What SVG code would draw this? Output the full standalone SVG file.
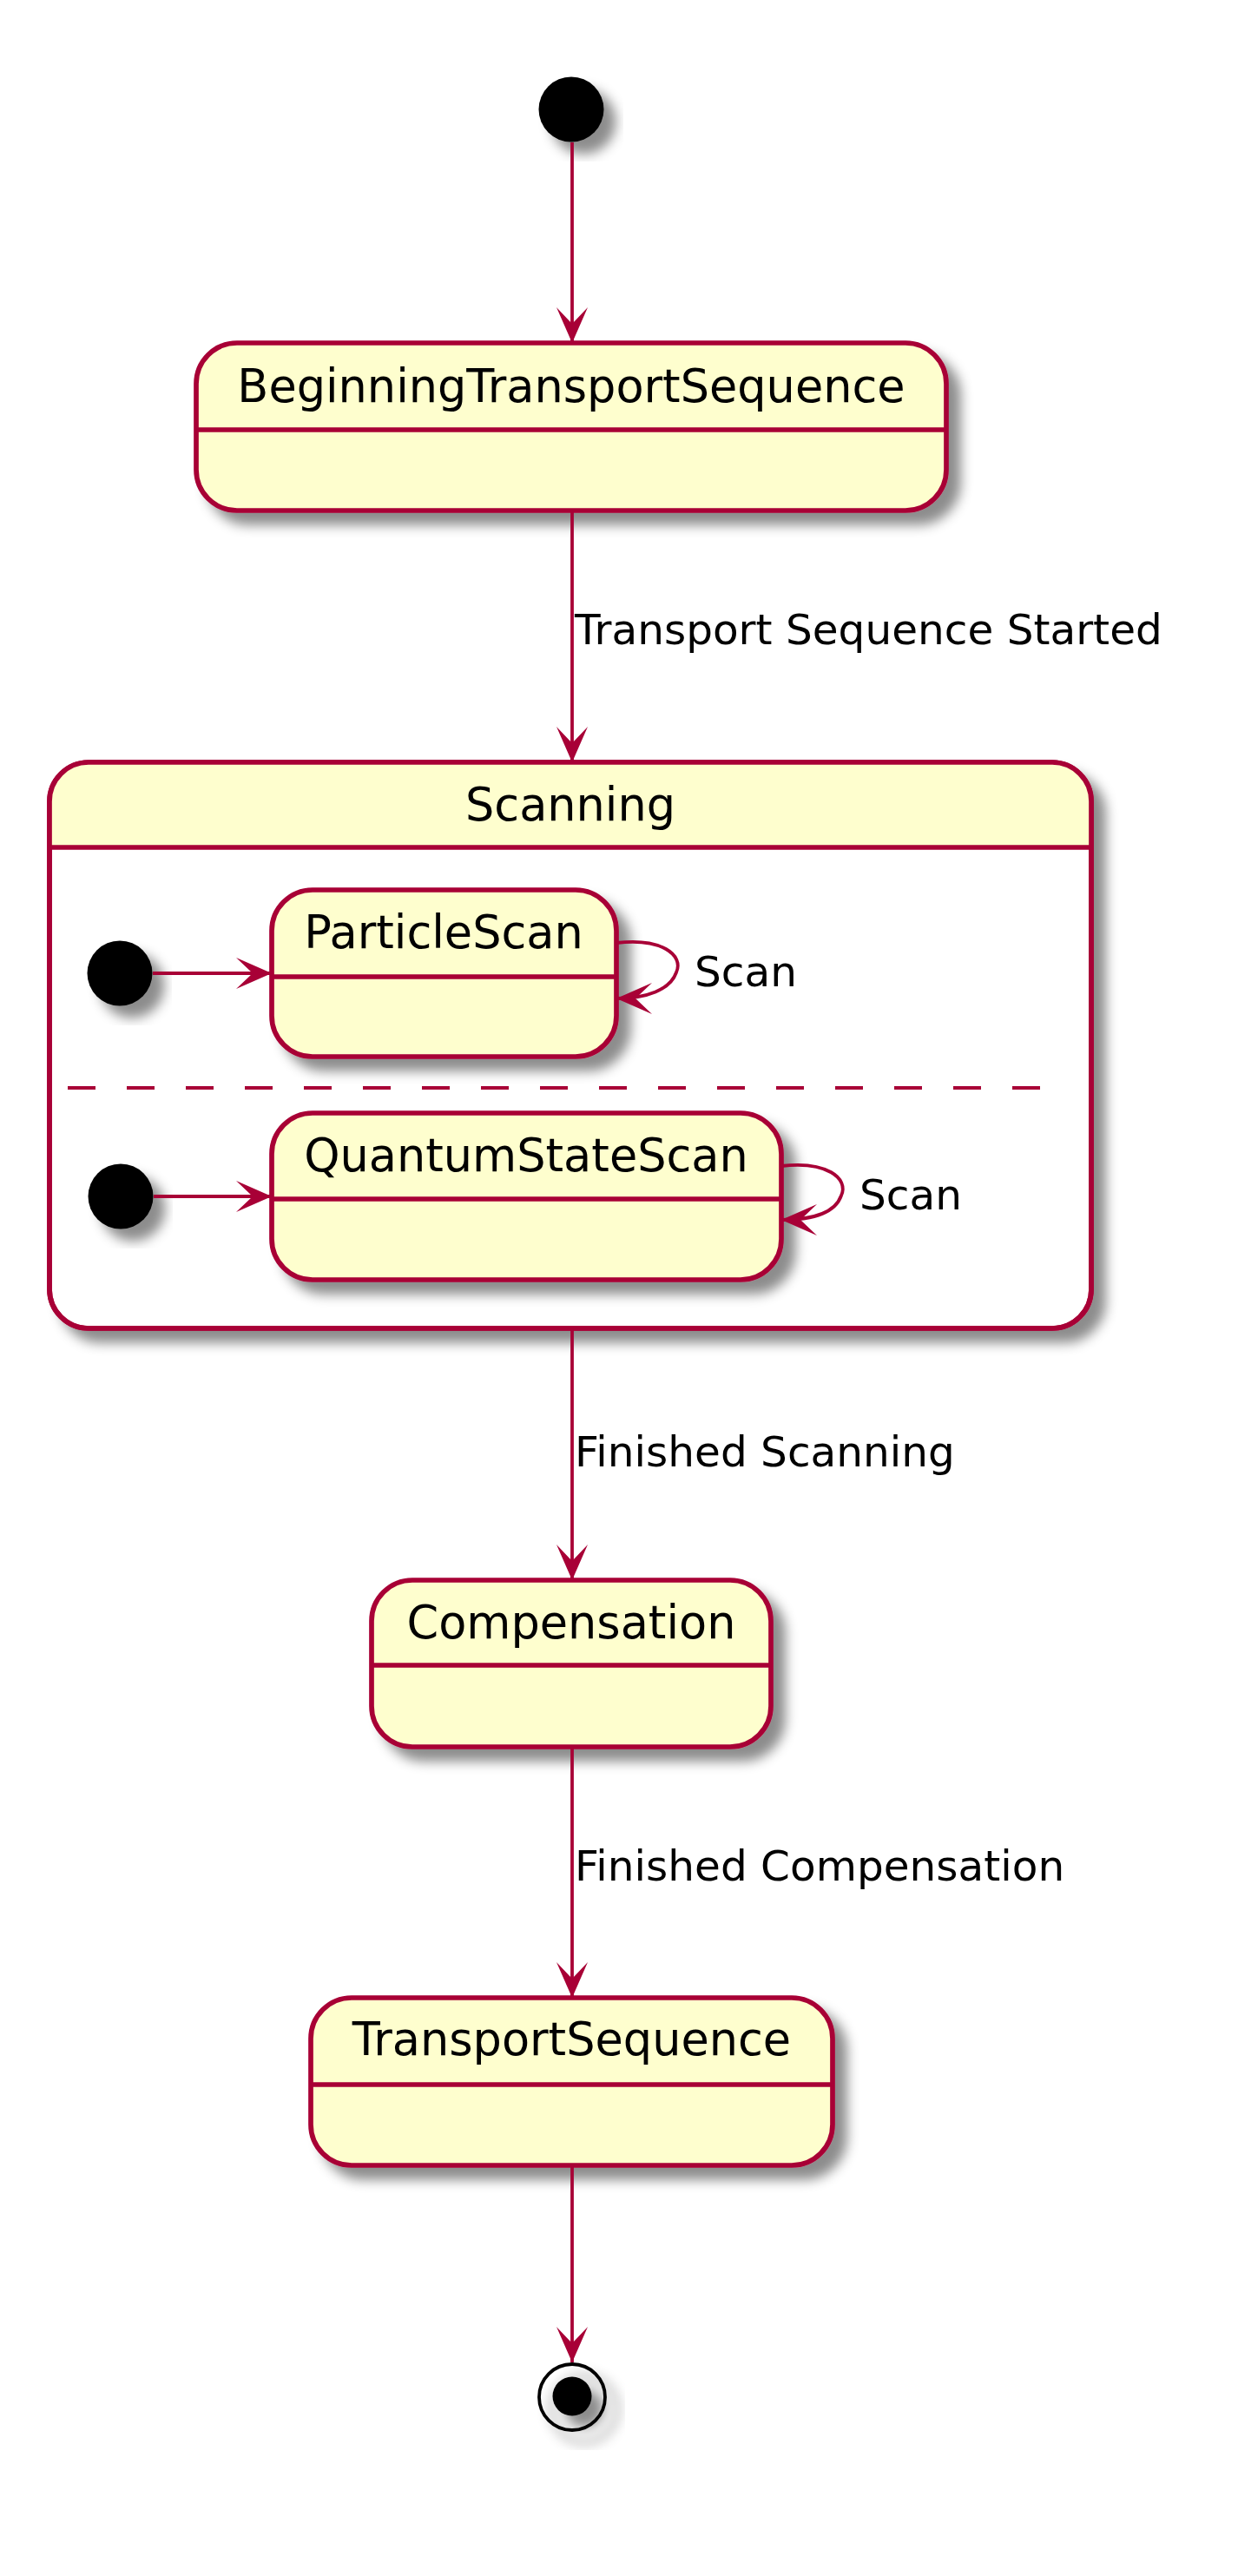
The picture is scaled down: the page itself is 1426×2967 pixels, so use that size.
<svg xmlns="http://www.w3.org/2000/svg" width="1426" height="2967" viewBox="0 0 1426 2967">
<defs>
<filter id="sh" x="-20%" y="-20%" width="150%" height="150%">
<feGaussianBlur in="SourceAlpha" stdDeviation="7" result="b"/>
<feColorMatrix in="b" type="matrix" values="0 0 0 0 0  0 0 0 0 0  0 0 0 0 0  0 0 0 .45 0" result="b2"/>
<feOffset in="b2" dx="14" dy="14" result="b3"/>
<feMerge><feMergeNode in="b3"/><feMergeNode in="SourceGraphic"/></feMerge>
</filter>
<marker id="arr" viewBox="-45 -22 50 44" markerWidth="50" markerHeight="44" refX="0" refY="0" orient="auto" markerUnits="userSpaceOnUse">
<polygon points="0,0 -41,-18 -22,0 -41,18" fill="#A80036"/>
</marker>
<style>
.st{fill:#FEFECE;stroke:#A80036;stroke-width:5.7}
.dv{stroke:#A80036;stroke-width:5.7}
.nm{font-family:"DejaVu Sans",Verdana,sans-serif;font-size:52.5px;fill:#000;text-anchor:middle}
.lb{font-family:"DejaVu Sans",Verdana,sans-serif;font-size:48.5px;fill:#000}
.ed{fill:none;stroke:#A80036;stroke-width:3.8}
</style>
</defs>
<rect width="1426" height="2967" fill="#fff"/>

<g id="start" filter="url(#sh)">
<circle cx="658" cy="126" r="37.5" fill="#000"/>
</g>

<g id="BeginningTransportSequence" filter="url(#sh)">
<rect class="st" x="226" y="395" width="864" height="193" rx="47" ry="47"/>
<line class="dv" x1="226" y1="495" x2="1090" y2="495"/>
<text class="nm" x="658" y="463">BeginningTransportSequence</text>
</g>

<g id="Scanning">
<g filter="url(#sh)">
<rect x="57" y="878" width="1200" height="652" rx="45" ry="45" fill="#fff" stroke="#A80036" stroke-width="5.7"/>
</g>
<path d="M57,976 L57,923 A45,45 0 0 1 102,878 L1212,878 A45,45 0 0 1 1257,923 L1257,976 Z" fill="#FEFECE"/>
<rect x="57" y="878" width="1200" height="652" rx="45" ry="45" fill="none" stroke="#A80036" stroke-width="5.7"/>
<line class="dv" x1="57" y1="976" x2="1257" y2="976"/>
<text class="nm" x="657" y="945">Scanning</text>
<line x1="78" y1="1253" x2="1202" y2="1253" stroke="#A80036" stroke-width="4" stroke-dasharray="32 36"/>
</g>

<g id="init1" filter="url(#sh)">
<circle cx="138" cy="1121" r="37.5" fill="#000"/>
</g>

<g id="ParticleScan" filter="url(#sh)">
<rect class="st" x="313" y="1025" width="397" height="192" rx="47" ry="47"/>
<line class="dv" x1="313" y1="1125" x2="710" y2="1125"/>
<text class="nm" x="511" y="1092">ParticleScan</text>
</g>

<g id="init2" filter="url(#sh)">
<circle cx="139" cy="1378" r="37.5" fill="#000"/>
</g>

<g id="QuantumStateScan" filter="url(#sh)">
<rect class="st" x="313" y="1282" width="587" height="192" rx="47" ry="47"/>
<line class="dv" x1="313" y1="1381" x2="900" y2="1381"/>
<text class="nm" x="606" y="1349">QuantumStateScan</text>
</g>

<g id="Compensation" filter="url(#sh)">
<rect class="st" x="428" y="1820" width="460" height="192" rx="47" ry="47"/>
<line class="dv" x1="428" y1="1918" x2="888" y2="1918"/>
<text class="nm" x="658" y="1887">Compensation</text>
</g>

<g id="TransportSequence" filter="url(#sh)">
<rect class="st" x="358" y="2301" width="601" height="193" rx="47" ry="47"/>
<line class="dv" x1="358" y1="2401" x2="959" y2="2401"/>
<text class="nm" x="658.5" y="2367">TransportSequence</text>
</g>

<g id="end" filter="url(#sh)">
<circle cx="659" cy="2761" r="38" fill="none" stroke="#000" stroke-width="3.8"/>
<circle cx="659" cy="2760" r="22.5" fill="#000"/>
</g>

<g id="connectors">
<line class="ed" x1="659" y1="164" x2="659" y2="395" marker-end="url(#arr)"/>
<line class="ed" x1="659" y1="588" x2="659" y2="878" marker-end="url(#arr)"/>
<text class="lb" x="662" y="742">Transport Sequence Started</text>
<line class="ed" x1="176" y1="1121" x2="313" y2="1121" marker-end="url(#arr)"/>
<path class="ed" d="M710,1086 C762,1080 788,1100 779,1120 C772,1140 745,1150 710,1150" marker-end="url(#arr)"/>
<text class="lb" x="800" y="1136">Scan</text>
<line class="ed" x1="177" y1="1378" x2="313" y2="1378" marker-end="url(#arr)"/>
<path class="ed" d="M900,1343 C952,1337 978,1357 969,1377 C962,1397 935,1405 900,1405" marker-end="url(#arr)"/>
<text class="lb" x="990" y="1393">Scan</text>
<line class="ed" x1="659" y1="1530" x2="659" y2="1820" marker-end="url(#arr)"/>
<text class="lb" x="662" y="1689">Finished Scanning</text>
<line class="ed" x1="659" y1="2012" x2="659" y2="2301" marker-end="url(#arr)"/>
<text class="lb" x="662" y="2166">Finished Compensation</text>
<line class="ed" x1="659" y1="2494" x2="659" y2="2721" marker-end="url(#arr)"/>
</g>
</svg>
